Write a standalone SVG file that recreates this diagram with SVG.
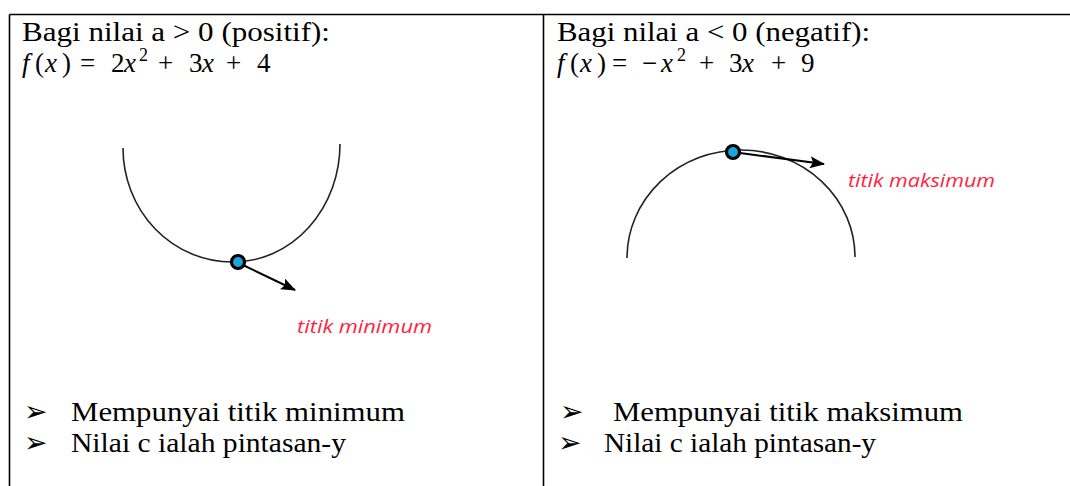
<svg xmlns="http://www.w3.org/2000/svg" width="1070" height="486" viewBox="0 0 1070 486">
<defs>
<style>
.border{stroke:#000;stroke-width:1.6;fill:none}
.hdr{font-family:"Liberation Serif",serif;font-size:27px;fill:#000}
.math{font-family:"Liberation Serif",serif;font-size:27px;fill:#000}
.it{font-style:italic}
.sup{font-size:18px}
.body{font-family:"Liberation Serif",serif;font-size:27px;fill:#000}
.bul{font-family:"DejaVu Sans",sans-serif;font-size:28px;fill:#000}
.lbl{font-family:"Open Sans",sans-serif;font-style:italic;font-size:19px;fill:#ff1f3f}
.curve{stroke:#222;stroke-width:1.6;fill:none}
.dot{fill:#1aa7e0;stroke:#000;stroke-width:3.2}
.arr{stroke:#000;stroke-width:2;fill:none;marker-end:url(#ah)}
</style>
<marker id="ah" markerUnits="userSpaceOnUse" markerWidth="16" markerHeight="12" refX="14" refY="6" orient="auto">
<path d="M0,0 L15,6 L0,12 L3,6 Z" fill="#000"/>
</marker>
</defs>
<rect width="1070" height="486" fill="#fff"/>
<g id="table">
<line class="border" x1="9.5" y1="14.5" x2="1070" y2="14.5"/>
<line class="border" x1="9.5" y1="14.5" x2="9.5" y2="486"/>
<line class="border" x1="543.5" y1="14.5" x2="543.5" y2="486"/>
</g>
<g id="cell-positive">
<text class="hdr" x="22" y="41" textLength="308" lengthAdjust="spacingAndGlyphs">Bagi nilai a &gt; 0 (positif):</text>
<text class="math" y="72"><tspan class="it" x="22">f</tspan><tspan x="35">(</tspan><tspan class="it" x="45">x</tspan><tspan x="62">)</tspan><tspan x="80">=</tspan><tspan x="111">2</tspan><tspan class="it" x="124">x</tspan><tspan class="sup" x="139" dy="-11">2</tspan><tspan x="158" dy="11">+</tspan><tspan x="189">3</tspan><tspan class="it" x="202">x</tspan><tspan x="226">+</tspan><tspan x="257">4</tspan></text>
<path id="curve-min" class="curve" d="M123,148 A109,114 0 0 0 233,262 A107,118 0 0 0 340,144"/>
<circle id="min-point" class="dot" cx="238" cy="262" r="6.5"/>
<text class="lbl" x="297" y="333" textLength="135" lengthAdjust="spacingAndGlyphs">titik minimum</text>
<text class="bul" x="24" y="421">➢</text>
<text class="body" x="71" y="421" textLength="334" lengthAdjust="spacingAndGlyphs">Mempunyai titik minimum</text>
<text class="bul" x="24" y="452">➢</text>
<text class="body" x="71" y="452" textLength="275" lengthAdjust="spacingAndGlyphs">Nilai c ialah pintasan-y</text>
</g>
<g id="cell-negative">
<text class="hdr" x="557" y="41" textLength="313" lengthAdjust="spacingAndGlyphs">Bagi nilai a &lt; 0 (negatif):</text>
<text class="math" y="72"><tspan class="it" x="557">f</tspan><tspan x="570">(</tspan><tspan class="it" x="580">x</tspan><tspan x="597">)</tspan><tspan x="612">=</tspan><tspan x="642">−</tspan><tspan class="it" x="661">x</tspan><tspan class="sup" x="677" dy="-11">2</tspan><tspan x="699" dy="11">+</tspan><tspan x="729">3</tspan><tspan class="it" x="742">x</tspan><tspan x="771">+</tspan><tspan x="801">9</tspan></text>
<path id="curve-max" class="curve" d="M627,258 A114,108 0 0 1 741,150 A114,107 0 0 1 855,257"/>
<circle id="max-point" class="dot" cx="733" cy="152" r="6.5"/>
<text class="lbl" x="848" y="187" textLength="147" lengthAdjust="spacingAndGlyphs">titik maksimum</text>
<text class="bul" x="560" y="421">➢</text>
<text class="body" x="613" y="421" textLength="350" lengthAdjust="spacingAndGlyphs">Mempunyai titik maksimum</text>
<text class="bul" x="558" y="452">➢</text>
<text class="body" x="604" y="452" textLength="272" lengthAdjust="spacingAndGlyphs">Nilai c ialah pintasan-y</text>
</g>
<g id="connectors">
<line class="arr" x1="243" y1="265" x2="295" y2="290"/>
<line class="arr" x1="740" y1="153" x2="824" y2="164"/>
</g>
</svg>
